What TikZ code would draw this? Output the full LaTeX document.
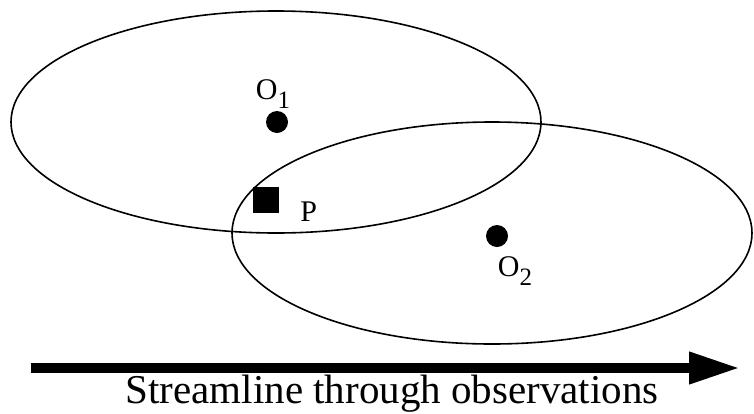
\documentclass[tikz,border=0pt]{standalone}
\usepackage{fontspec}
\setmainfont{Liberation Serif}
\usetikzlibrary{arrows.meta,positioning}
\newcommand{\lowidx}[1]{\raisebox{-0.3em}{\fontsize{25}{25}\selectfont #1}}

\begin{document}
\begin{tikzpicture}[
        x=1pt, y=-1pt,
        font=\fontsize{30}{32}\selectfont,
        node distance=2pt and 21pt,
        region/.style={line width=1.6pt},
        obs/.style={circle, fill=black, inner sep=0pt, minimum size=22pt},
        pnt/.style={rectangle, fill=black, inner sep=0pt, minimum size=26pt},
        tag/.style={inner sep=0pt},
        flow/.style={line width=10pt, -{Triangle[length=51pt,width=30pt]}}
      ]
        \useasboundingbox (0,0) rectangle (754,413);
        % regions of influence
        \draw[region] (276,122) ellipse [x radius=265pt, y radius=111pt];
        \draw[region] (492,233) ellipse [x radius=260pt, y radius=111pt];
        % observations and the point
        \node[obs] (o1) at (277,122) {};
        \node[obs] (o2) at (497,236) {};
        \node[pnt] (p) at (266,200) {};
        \node[tag, above=2pt of o1, xshift=-4pt] (o1lab) {O\lowidx{1}};
        \node[tag, below=9pt of o2, xshift=18pt] (o2lab) {O\lowidx{2}};
        \node[tag, right=21pt of p, yshift=-12pt] (plab) {P};
        % streamline
        \coordinate (tail) at (31,368);
        \coordinate (head) at (740,368);
        \draw[flow] (tail) -- (head);
        \node[anchor=base, font=\fontsize{41}{44}\selectfont] (caption) at (392,403)
          {Streamline through observations};
      \end{tikzpicture}
\end{document}
